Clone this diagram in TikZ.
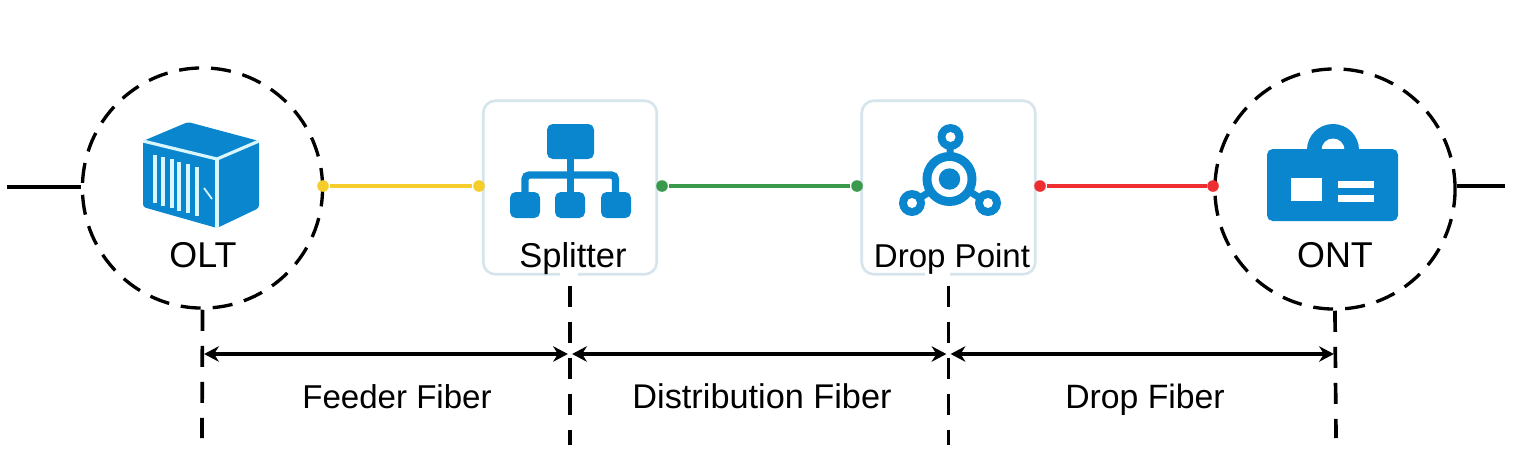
\documentclass[tikz,border=0pt]{standalone}
\usepackage{fontspec}
\setmainfont{Liberation Sans}
\usetikzlibrary{arrows.meta}
\definecolor{iconblue}{HTML}{0A86CF}
\definecolor{slatblue}{HTML}{D8F6FC}
\definecolor{boxline}{HTML}{D6E4EB}
\definecolor{feederyellow}{HTML}{F6CE2C}
\definecolor{distgreen}{HTML}{3A9A4C}
\definecolor{dropred}{HTML}{EE2E30}

\begin{document}
\begin{tikzpicture}[
	x=0.01cm, y=-0.01cm,
	zone/.style={circle, draw, line width=0.95pt, minimum size=2.4cm, inner sep=0pt, dash pattern=on 5.7pt off 3.4pt},
	unit/.style={draw=boxline, line width=0.75pt, rounded corners=3.5pt, minimum size=1.735cm, inner sep=0pt},
	dot/.style={circle, inner sep=0pt, minimum size=3.3pt},
	fiber/.style={line width=1.15pt},
	lead/.style={line width=1pt},
	tick/.style={line width=1.05pt, dash pattern=on 6pt off 4.25pt},
	span/.style={{Stealth[length=4.2pt,width=4.4pt]}-{Stealth[length=4.2pt,width=4.4pt]}, line width=1pt, shorten <=0.6pt, shorten >=0.6pt},
	caption/.style={font=\fontsize{#1}{11}\selectfont, anchor=base, inner sep=0pt},
	caption/.default=9.4,
	sliver/.style={draw=slatblue, line width=0.9pt}
	]
	\useasboundingbox (0,0) rectangle (1523,472);

	% --- MAIN NODES ---
	\node[zone] (olt) at (202.5,188) {};
	\node[zone] (ont) at (1335,189) {};
	\node[unit] (split) at (570,187.5) {};
	\node[unit] (point) at (948.5,187.5) {};

	% gaps in the box edges
	\draw[white, line width=1pt] (560,274) -- (578,274);
	\draw[white, line width=1pt] (925,274) -- (950,274);

	% --- OLT ICON ---
	\fill[iconblue, rounded corners=0.8pt] (188,122) -- (259,141) -- (259,208) -- (217,228) -- (143,207) -- (143,141) -- cycle;
	\draw[sliver] (143,141) -- (217,159) -- (259,141);
	\draw[sliver] (217,159) -- (217,228);
	\foreach \x/\ya/\yb in {155/155/203, 163/157/206, 172/159/208, 179/162/211, 188/164/213, 197/167/216}
		\draw[sliver] (\x,\ya) -- (\x,\yb);
	\draw[sliver, line width=0.5pt] (204,188) -- (212,199);

	% --- SPLITTER ICON ---
	\fill[iconblue, rounded corners=1.6pt] (547,124) rectangle (594,159);
	\foreach \x in {510,555,601}
		\fill[iconblue, rounded corners=1.6pt] (\x,192) rectangle ++(30,26);
	\draw[iconblue, line width=2.1pt] (570.5,159) -- (570.5,192);
	\draw[iconblue, line width=2.1pt, rounded corners=1.2pt] (525,192) -- (525,175) -- (615.5,175) -- (615.5,192);

	% --- DROP POINT ICON ---
	\foreach \x/\y in {950.5/137, 912/203, 988/203} {
		\draw[iconblue, line width=2pt] (949.5,179) -- (\x,\y);
		\fill[iconblue] (\x,\y) circle (0.13cm);
		\fill[white] (\x,\y) circle (0.05cm);
	}
	\fill[iconblue] (949.5,179) circle (0.27cm);
	\fill[white] (949.5,179) circle (0.18cm);
	\fill[iconblue] (949.5,179) circle (0.107cm);

	% --- ONT ICON ---
	\fill[iconblue] (1333,150) circle (0.26cm);
	\fill[white] (1333,150) circle (0.115cm);
	\fill[iconblue, rounded corners=1.6pt] (1267,149) rectangle (1398,221);
	\fill[white] (1291,178) rectangle (1322,201);
	\fill[white] (1338,181) rectangle (1374,188);
	\fill[white] (1338,195) rectangle (1374,202);

	% --- LABELS ---
	\node[caption=10.2] (oltlabel) at (203,267) {OLT};
	\node[caption=9.8] (splitlabel) at (573,267) {Splitter};
	\node[caption] (pointlabel) at (952,267) {Drop Point};
	\node[caption=10.2] (ontlabel) at (1335,267) {ONT};

	% --- FIBER LINES ---
	\node[dot, fill=feederyellow] (y1) at (323,186) {};
	\node[dot, fill=feederyellow] (y2) at (479,186) {};
	\node[dot, fill=distgreen] (g1) at (662,186) {};
	\node[dot, fill=distgreen] (g2) at (857,186) {};
	\node[dot, fill=dropred] (r1) at (1040,186) {};
	\node[dot, fill=dropred] (r2) at (1213,186) {};
	\draw[fiber, feederyellow] (y1) -- (y2);
	\draw[fiber, distgreen] (g1) -- (g2);
	\draw[fiber, dropred] (r1) -- (r2);

	% outer leads
	\coordinate (inlet) at (7,187);
	\coordinate (outlet) at (1505,186);
	\draw[lead] (inlet) -- (olt.west |- inlet);
	\draw[lead] (ont.east |- outlet) -- (outlet);

	% --- SPANS ---
	\coordinate (end1) at (202,438);
	\coordinate (end2) at (570,445);
	\coordinate (end3) at (948.5,445);
	\coordinate (end4) at (1336,438);
	\draw[tick] (olt.south) -- (end1);
	\draw[tick, shorten <=2.85pt] (split.south) -- (end2);
	\draw[tick, shorten <=2.85pt] (point.south) -- (end3);
	\draw[tick] (ont.south) -- (end4);

	\coordinate (mark1) at (202,354);
	\coordinate (mark2) at (570,354);
	\coordinate (mark3) at (948.5,354);
	\coordinate (mark4) at (1336,354);
	\draw[span] (mark1) -- (mark2);
	\draw[span] (mark2) -- (mark3);
	\draw[span] (mark3) -- (mark4);

	\node[caption] (feeder) at (397,408) {Feeder Fiber};
	\node[caption=9.75] (dist) at (762,408) {Distribution Fiber};
	\node[caption=9.6] (drop) at (1145,408) {Drop Fiber};

\end{tikzpicture}
\end{document}
